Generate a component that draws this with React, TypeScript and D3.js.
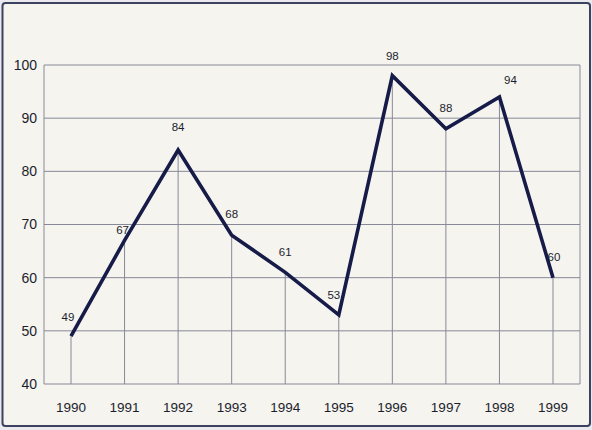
import React from "react";
import * as d3 from "d3";

const years = ["1990", "1991", "1992", "1993", "1994", "1995", "1996", "1997", "1998", "1999"];
const values = [49, 67, 84, 68, 61, 53, 98, 88, 94, 60];
const yTicks = [40, 50, 60, 70, 80, 90, 100];

const W = 592;
const H = 430;
const left = 44;
const right = 580;
const top = 65;
const bottom = 384;

// label nudges (dx, dy from point)
const labelNudge: Record<string, [number, number]> = {
  "1990": [-3, -19],
  "1991": [-2, -10],
  "1992": [0, -23],
  "1993": [0, -21],
  "1994": [0, -20],
  "1995": [-5, -20],
  "1996": [0, -20],
  "1997": [0, -21],
  "1998": [11, -17],
  "1999": [1, -21],
};

export default function App() {
  const x = d3.scalePoint<string>().domain(years).range([71, 553]);
  const y = d3.scaleLinear().domain([40, 100]).range([bottom, top]);
  const pts = years.map((yr, i) => ({ yr, v: values[i] }));
  const line = d3
    .line<{ yr: string; v: number }>()
    .x((d) => x(d.yr)!)
    .y((d) => y(d.v));
  const font = "'Liberation Sans', Arial, sans-serif";
  const grid = "#878998";
  return (
    <svg
      width={W}
      height={H}
      style={{ position: "absolute", left: 0, top: 0, display: "block" }}
      fontFamily={font}
    >
      <rect x={0} y={0} width={W} height={H} fill="#e9e9ee" />
      <rect x={2.5} y={3} width={587.5} height={423} rx={3} fill="#f5f4ef" stroke="#3d4260" strokeWidth={2} />
      {yTicks.map((t) => (
        <line key={t} x1={left} x2={right} y1={y(t)} y2={y(t)} stroke={grid} strokeWidth={1} />
      ))}
      <line x1={left} x2={left} y1={top} y2={bottom} stroke={grid} strokeWidth={1} />
      <line x1={right} x2={right} y1={top} y2={bottom} stroke={grid} strokeWidth={1} />
      {pts.map((d) => (
        <line key={d.yr} x1={x(d.yr)} x2={x(d.yr)} y1={y(d.v)} y2={bottom} stroke={grid} strokeWidth={1} />
      ))}
      <path d={line(pts)!} fill="none" stroke="#161b48" strokeWidth={3.6} strokeLinejoin="miter" />
      {yTicks.map((t) => (
        <text key={t} x={37} y={y(t)} dy="0.35em" textAnchor="end" fontSize={14} fill="#1c1e2e">
          {t}
        </text>
      ))}
      {years.map((yr) => (
        <text key={yr} x={x(yr)} y={412} textAnchor="middle" fontSize={13.5} fill="#1c1e2e">
          {yr}
        </text>
      ))}
      {pts.map((d) => {
        const [dx, dy] = labelNudge[d.yr];
        return (
          <text
            key={d.yr}
            x={x(d.yr)! + dx}
            y={y(d.v) + dy}
            dy="0.35em"
            textAnchor="middle"
            fontSize={11.5}
            fill="#1c1e2e"
          >
            {d.v}
          </text>
        );
      })}
    </svg>
  );
}
